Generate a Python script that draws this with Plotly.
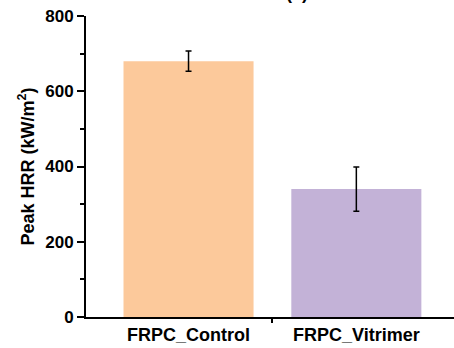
import plotly.graph_objects as go

categories = ["FRPC_Control", "FRPC_Vitrimer"]
peak_hrr = [680, 340]
peak_hrr_err = [27, 59]
bar_colors = ["#FCC99B", "#C3B2D7"]

x_pos = list(range(len(categories)))
xr = [-0.611, 1.582]

fig = go.Figure()
fig.add_trace(go.Bar(
    x=x_pos, y=peak_hrr, width=0.775,
    marker=dict(color=bar_colors, line=dict(width=0)),
    error_y=dict(type="data", array=peak_hrr_err, color="black", thickness=1.5, width=3),
    showlegend=False,
))
# invisible trace for secondary x-axis carrying the boundary tick
fig.add_trace(go.Scatter(x=[0.5], y=[0], xaxis="x2", mode="markers",
                         marker=dict(opacity=0), showlegend=False, hoverinfo="skip"))

font_family = "Liberation Sans, Arial, sans-serif"
fig.update_layout(
    width=454, height=348,
    margin=dict(l=86, r=0, t=16, b=31),
    plot_bgcolor="white", paper_bgcolor="white",
    font=dict(family=font_family, color="black"),
    xaxis=dict(
        range=xr, tickvals=x_pos, ticktext=[f"<b>{c}</b>" for c in categories],
        ticks="", showline=True, linecolor="black", linewidth=2,
        showgrid=False, zeroline=False, tickfont=dict(size=18), ticklen=0,
    ),
    xaxis2=dict(
        range=xr, overlaying="x", side="bottom", tickvals=[0.5], ticktext=[""],
        ticks="outside", ticklen=5, tickwidth=2, tickcolor="black",
        showline=False, showgrid=False, zeroline=False,
    ),
    yaxis=dict(
        range=[0, 800], tickvals=[0, 200, 400, 600, 800],
        ticktext=["<b>0</b>", "<b>200</b>", "<b>400</b>", "<b>600</b>", "<b>800</b>"],
        ticks="outside", ticklen=7, tickwidth=2, tickcolor="black",
        minor=dict(tickvals=[100, 300, 500, 700], ticks="outside", ticklen=4, tickwidth=1.5, tickcolor="black"),
        showline=True, linecolor="black", linewidth=2, showgrid=False, zeroline=False,
        tickfont=dict(size=17),
        title=dict(text="<b>Peak HRR (kW/m<sup>2</sup>)</b>", font=dict(size=18), standoff=6),
        automargin=False,
    ),
    annotations=[dict(text="<b>(a)</b>", x=0.573, y=1.077, xref="paper", yref="paper",
                      showarrow=False, font=dict(size=18), yanchor="middle")],
)
fig.write_html("out.html", config={"displayModeBar": False},
               post_script="document.body.style.margin='0px';document.body.style.overflow='hidden';")
